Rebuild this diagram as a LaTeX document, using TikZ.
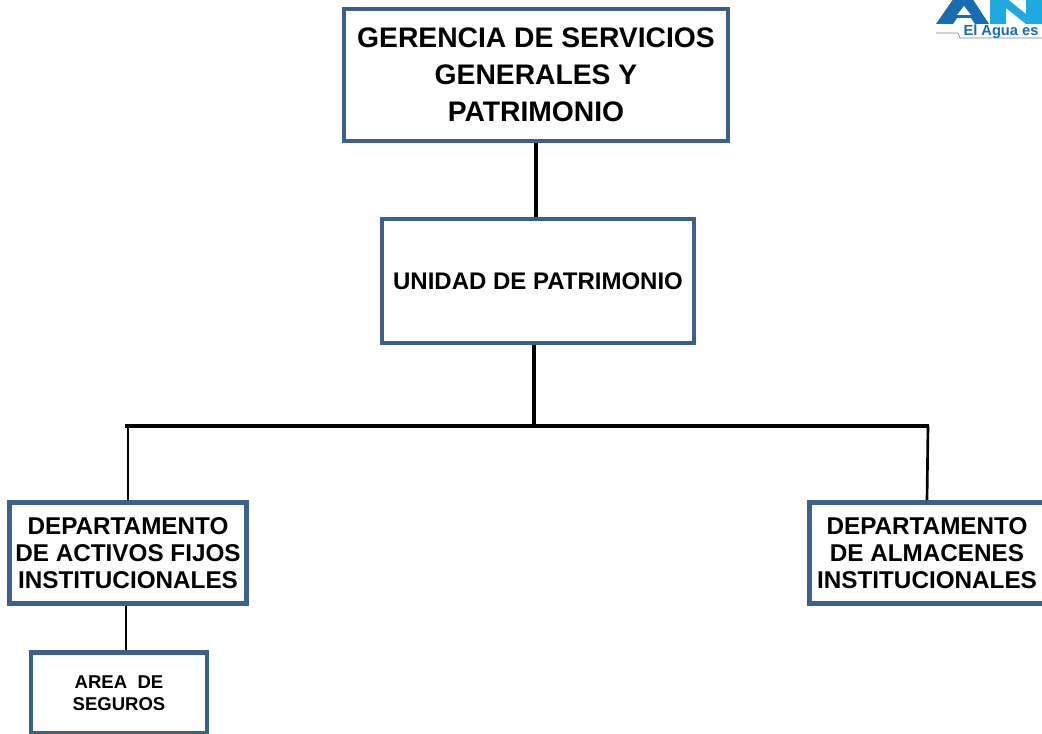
\documentclass[tikz,border=0pt]{standalone}
\usepackage{fontspec}
\setmainfont{Liberation Sans}
\usepackage{tikz}
\definecolor{boxblue}{RGB}{59,96,140}
\definecolor{logodark}{RGB}{24,108,178}
\definecolor{logolight}{RGB}{30,170,225}

\begin{document}
\begin{tikzpicture}[x=0.75pt,y=-0.75pt]
	\useasboundingbox (0,0) rectangle (1042,734);
	\clip (0,0) rectangle (1042,734);
	\tikzstyle{every node} = [draw=boxblue,line width=3.4pt,fill=white,align=center,font=\bfseries,inner sep=0pt];
	\tikzstyle{link} = [draw=black,line width=2pt];
	\tikzstyle{mainlink} = [draw=black,line width=3pt];
	% logo
	\fill[logodark] (936,24) -- (953,24) -- (957,18) -- (971,18) -- (975,24) -- (989,24) -- (972,-2) -- (954,-2) -- cycle;
	\fill[white] (957,15) -- (971,15) -- (964,6) -- cycle;
	\fill[logolight] (990,24) -- (990,-2) -- (1006,-2) -- (1026,14) -- (1026,-2) -- (1042,-2) -- (1042,24) -- (1026,24) -- (1006,8) -- (1006,24) -- cycle;
	\draw[gray,line width=0.5pt] (936,33) -- (958,33) -- (960,38) -- (1042,38);
	\node[draw=none,fill=none,text=logodark,font=\bfseries\fontsize{11}{11}\selectfont] (lema) at (1001,32) {El Agua es};
	% boxes
	\node[minimum width=288pt,minimum height=99pt,font=\bfseries\fontsize{21.2}{27.75}\selectfont] (gerencia) at (536,75) {GERENCIA DE SERVICIOS\\GENERALES Y\\PATRIMONIO};
	\node[minimum width=234pt,minimum height=93pt,font=\bfseries\fontsize{18}{20}\selectfont] (unidad) at (538,281) {UNIDAD DE PATRIMONIO};
	\node[minimum width=178pt,minimum height=76pt,font=\bfseries\fontsize{18.2}{20.5}\selectfont] (activos) at (128,553) {DEPARTAMENTO\\DE ACTIVOS FIJOS\\INSTITUCIONALES};
	\node[minimum width=176pt,minimum height=76pt,font=\bfseries\fontsize{18.2}{20.5}\selectfont] (almacenes) at (927,553) {DEPARTAMENTO\\DE ALMACENES\\INSTITUCIONALES};
	\node[minimum width=132pt,minimum height=61pt,font=\bfseries\fontsize{13.9}{16.5}\selectfont] (seguros) at (119,693) {AREA~~DE\\SEGUROS};
	% connectors
	\coordinate (barc) at (534,426);
	\coordinate (barl) at (125,426);
	\coordinate (barr) at (929,426);
	\coordinate (dropl) at (128,426);
	\coordinate (dropr) at (928,426);
	\coordinate (subc) at (126,606);
	\draw[mainlink] (gerencia.south) -- (gerencia.south |- unidad.north);
	\draw[mainlink] (unidad.south -| barc) -- (barc);
	\draw[mainlink] (barl) -- (barr);
	\draw[link] (dropl) -- (activos.north);
	\draw[link] (dropr) -- (almacenes.north);
	\draw[link] (subc) -- (seguros.north -| subc);
\end{tikzpicture}
\end{document}
